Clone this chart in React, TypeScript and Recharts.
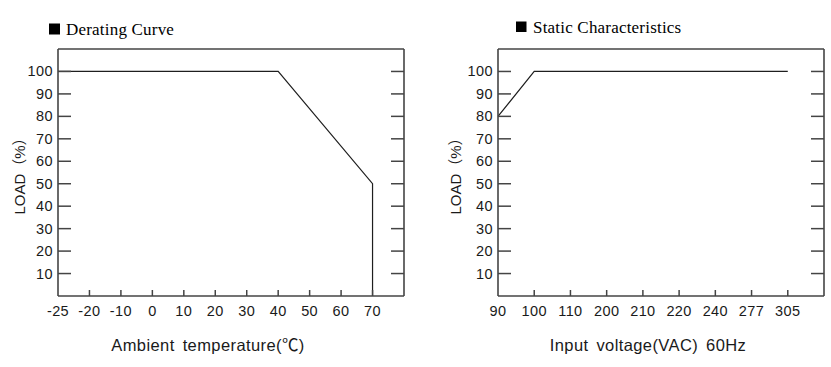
import React from 'react';
import { LineChart, Line, XAxis, YAxis, ReferenceLine, Label } from 'recharts';

// ---- data ----
const tempCategories = ['-25', '-20', '-10', '0', '10', '20', '30', '40', '50', '60', '70'];
const deratingTemps = ['-25', '40', '70', '70'];
const deratingLoad = [100, 100, 50, 0];

const voltCategories = ['90', '100', '110', '200', '210', '220', '240', '277', '305'];
const staticVolts = ['90', '100', '305'];
const staticLoad = [80, 100, 100];

const loadTicks = [10, 20, 30, 40, 50, 60, 70, 80, 90, 100];
const loadMax = 110;

const leftTitle = 'Derating Curve';
const rightTitle = 'Static Characteristics';
const leftXLabel = 'Ambient temperature(℃)';
const rightXLabel = 'Input voltage(VAC) 60Hz';
const yLabel = 'LOAD（%）';

const deratingData = deratingTemps.map((t, i) => ({ xi: tempCategories.indexOf(t), load: deratingLoad[i] }));
const staticData = staticVolts.map((v, i) => ({ xi: voltCategories.indexOf(v), load: staticLoad[i] }));

// ---- style ----
const FONT = '"Liberation Sans", Arial, "Noto Sans CJK SC", sans-serif';
const SERIF = '"Liberation Serif", "Times New Roman", serif';
const AXIS = '#444';
const AXW = 1.6;
const TXT = '#1a1a1a';
const Y_AXIS_W = 40;

const makeXTick = (cats: string[]) => (props: any) => {
  const { x, y, payload } = props;
  const idx = payload.value as number;
  return (
    <g>
      {idx > 0 && <line x1={x} x2={x} y1={y} y2={y - 6} stroke={AXIS} strokeWidth={1.5} />}
      <text x={x} y={y + 20} textAnchor="middle" fontSize={14.5} letterSpacing={0.4} fontFamily={FONT} fill={TXT}>
        {cats[idx]}
      </text>
    </g>
  );
};

const makeYTick = (plotWidth: number) => (props: any) => {
  const { x, y, payload } = props;
  return (
    <g>
      <line x1={x} x2={x + 13} y1={y} y2={y} stroke={AXIS} strokeWidth={1.5} />
      <line x1={x + plotWidth - 13} x2={x + plotWidth} y1={y} y2={y} stroke={AXIS} strokeWidth={1.5} />
      <text x={x - 5} y={y + 5} textAnchor="end" fontSize={14.5} letterSpacing={0.4} fontFamily={FONT} fill={TXT}>
        {payload.value}
      </text>
    </g>
  );
};

const makeXLabel = (text: string, dx: number, dy: number) => (props: any) => {
  const vb = props.viewBox;
  return (
    <text
      x={vb.x + vb.width / 2 + dx}
      y={vb.y + dy}
      textAnchor="middle"
      fontSize={16.5}
      letterSpacing={0.4}
      wordSpacing={3}
      fontFamily={FONT}
      fill={TXT}
    >
      {text}
    </text>
  );
};

const makeYLabel = (text: string, cx: number) => (props: any) => {
  const vb = props.viewBox;
  const cy = vb.y + vb.height / 2;
  return (
    <text
      x={cx}
      y={cy}
      transform={`rotate(-90 ${cx} ${cy})`}
      textAnchor="middle"
      dominantBaseline="central"
      fontSize={15}
      fontFamily={FONT}
      fill={TXT}
    >
      {text}
    </text>
  );
};

type PanelProps = {
  data: { xi: number; load: number }[];
  cats: string[];
  width: number;
  marginLeft: number;
  marginRight: number;
  xLabel: string;
  xLabelDx: number;
  yLabelX: number;
};

const Panel = ({ data, cats, width, marginLeft, marginRight, xLabel, xLabelDx, yLabelX }: PanelProps) => {
  const plotWidth = width - marginLeft - Y_AXIS_W - marginRight;
  return (
    <LineChart width={width} height={367} data={data} margin={{ top: 49, right: marginRight, bottom: 41, left: marginLeft }}>
      <XAxis
        dataKey="xi"
        type="number"
        domain={[0, cats.length]}
        ticks={cats.map((_, i) => i)}
        interval={0}
        height={30}
        tickSize={0}
        tickMargin={0}
        tickLine={false}
        axisLine={{ stroke: AXIS, strokeWidth: AXW }}
        tick={makeXTick(cats)}
      >
        <Label content={makeXLabel(xLabel, xLabelDx, 55)} />
      </XAxis>
      <YAxis
        type="number"
        domain={[0, loadMax]}
        ticks={loadTicks}
        interval={0}
        width={Y_AXIS_W}
        tickSize={0}
        tickMargin={0}
        tickLine={false}
        axisLine={{ stroke: AXIS, strokeWidth: AXW }}
        tick={makeYTick(plotWidth)}
      >
        <Label content={makeYLabel(yLabel, yLabelX)} />
      </YAxis>
      <ReferenceLine y={loadMax} stroke={AXIS} strokeWidth={AXW} />
      <ReferenceLine x={cats.length} stroke={AXIS} strokeWidth={AXW} />
      <Line type="linear" dataKey="load" stroke="#1e1e1e" strokeWidth={1.2} dot={false} activeDot={false} isAnimationActive={false} />
    </LineChart>
  );
};

export default function App() {
  return (
    <div style={{ position: 'absolute', left: 0, top: 0, width: 831, height: 367, background: '#fff', overflow: 'hidden' }}>
      <div style={{ position: 'absolute', left: 0, top: 0 }}>
        <Panel
          data={deratingData}
          cats={tempCategories}
          width={420}
          marginLeft={18}
          marginRight={16}
          xLabel={leftXLabel}
          xLabelDx={-23}
          yLabelX={19}
        />
      </div>
      <div style={{ position: 'absolute', left: 420, top: 0 }}>
        <Panel
          data={staticData}
          cats={voltCategories}
          width={411}
          marginLeft={38}
          marginRight={7}
          xLabel={rightXLabel}
          xLabelDx={-13}
          yLabelX={35}
        />
      </div>
      <svg width={831} height={367} style={{ position: 'absolute', left: 0, top: 0, pointerEvents: 'none' }}>
        <rect x={49} y={23.5} width={11} height={11} fill="#000" />
        <text x={66} y={35} fontSize={17} fontFamily={SERIF} fill="#000" letterSpacing={0.2}>
          {leftTitle}
        </text>
        <rect x={516} y={21.5} width={10.5} height={10.5} fill="#000" />
        <text x={533} y={32.7} fontSize={17} fontFamily={SERIF} fill="#000" letterSpacing={0.2}>
          {rightTitle}
        </text>
      </svg>
    </div>
  );
}
